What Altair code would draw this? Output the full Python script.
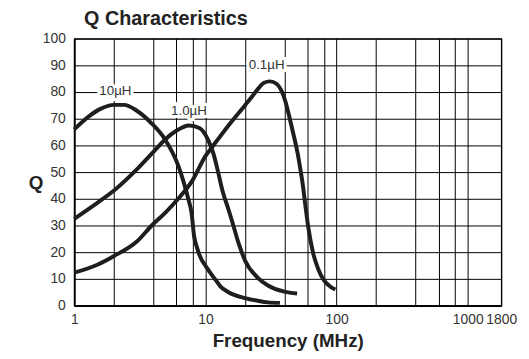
import altair as alt
import pandas as pd

# ---- data ----
f_10uH = [1, 1.3, 1.6, 2.0, 2.4, 3, 3.9, 4.9, 6.2, 6.9, 7.4, 7.85, 8.2, 8.6, 9, 10.3, 12, 13, 15, 20, 25, 30, 37]
q_10uH = [66, 71, 73.8, 75.2, 75.2, 73, 68.2, 62.4, 52.5, 45.5, 40, 34.6, 26, 22, 19, 14, 9.5, 7.2, 5, 2.8, 1.8, 1.2, 1]

f_1uH = [1, 1.5, 2, 3, 4, 5, 6, 7.5, 9, 10.5, 11.5, 12.5, 13.5, 15, 16, 18, 20, 25, 30, 40, 50]
q_1uH = [32.5, 38.5, 43, 51, 57.5, 62.5, 65.5, 67.5, 66.5, 62, 57, 50, 43, 36, 31.5, 23, 17, 10.5, 7.5, 5.2, 4.5]

f_01uH = [1, 1.5, 2, 3, 3.9, 5, 6.2, 8, 10, 11.3, 15, 20, 22, 25, 28, 31, 35, 38, 41, 44, 47, 50.5, 53, 55, 58, 61, 66, 72, 80, 90, 98]
q_01uH = [12.3, 15.3, 18.5, 24, 30, 35, 40, 47, 56, 59.5, 67.5, 75, 77.5, 81, 83.5, 84, 83, 80.5, 76, 70, 64, 57, 51, 46, 37, 29, 20, 14, 9.5, 7, 6]

series_names = ["10µH", "1.0µH", "0.1µH"]

label_text = ["10µH", "1.0µH", "0.1µH"]
label_f = [2.06, 7.5, 29.3]
label_q = [80.5, 73, 90]

grid_x = [1, 2, 4, 6, 8, 10, 20, 40, 60, 80, 100, 200, 400, 600, 800, 1000, 1800]
label_x = [1, 10, 100, 1000, 1800]
grid_y = [0, 10, 20, 30, 40, 50, 60, 70, 80, 90, 100]

rows = []
for name, fs, qs in zip(series_names, [f_10uH, f_1uH, f_01uH], [q_10uH, q_1uH, q_01uH]):
    for f, q in zip(fs, qs):
        rows.append({"series": name, "f": f, "Q": q})
df = pd.DataFrame(rows)
lab = pd.DataFrame({"text": label_text, "f": label_f, "Q": label_q})

FONT = "Liberation Sans"
x_scale = alt.Scale(type="log", domain=[1, 1800], nice=False)
y_scale = alt.Scale(domain=[0, 100], nice=False)

x_axis = alt.Axis(
    values=grid_x,
    labelExpr=f"indexof({label_x}, datum.value) >= 0 ? format(datum.value, 'd') : ''",
    labelOverlap=False,
    labelFlush=False,
    ticks=False,
    labelPadding=7,
    labelFontSize=14,
    labelFont=FONT,
    labelColor="#333",
    title="Frequency (MHz)",
    titleFont=FONT,
    titleFontSize=19,
    titleFontWeight="bold",
    titleColor="#222",
    titleBaseline="alphabetic",
    titleY=41,
    grid=True,
)
y_axis = alt.Axis(
    values=grid_y,
    labelOverlap=False,
    labelFlush=False,
    ticks=False,
    labelPadding=9,
    labelFontSize=14,
    labelFont=FONT,
    labelColor="#333",
    title="Q",
    titleAngle=0,
    titleFont=FONT,
    titleFontSize=19,
    titleFontWeight="bold",
    titleColor="#222",
    titleAlign="center",
    titleBaseline="middle",
    titleX=-39,
    titleY=146,
    grid=True,
)

X = alt.X("f:Q", scale=x_scale, axis=x_axis)
Y = alt.Y("Q:Q", scale=y_scale, axis=y_axis)

lines = alt.Chart(df).mark_line(
    color="#1e1e1e", strokeWidth=4, interpolate="monotone", strokeCap="butt"
).encode(x=X, y=Y, detail="series:N")

halo = alt.Chart(lab).mark_text(
    font=FONT, fontSize=13.5, stroke="white", strokeWidth=6, fill="white"
).encode(x=X, y=Y, text="text:N")
texts = alt.Chart(lab).mark_text(
    font=FONT, fontSize=13.5, color="#333"
).encode(x=X, y=Y, text="text:N")

chart = alt.layer(lines, halo, texts).properties(
    width=432,
    height=270,
    autosize=alt.AutoSizeParams(type="none"),
    padding={"left": 67, "top": 29, "right": 20, "bottom": 48},
    title=alt.TitleParams(
        "Q Characteristics",
        anchor="start",
        frame="group",
        dx=10,
        offset=3,
        font=FONT,
        fontSize=20,
        fontWeight="bold",
        color="#222",
    ),
).configure_view(
    stroke="black", strokeWidth=1.2
).configure_axis(
    gridColor="black", gridWidth=1, gridOpacity=1,
    domainColor="black", domainWidth=1.8,
)

chart.save("out.html", embed_options={"renderer": "svg", "actions": False})
